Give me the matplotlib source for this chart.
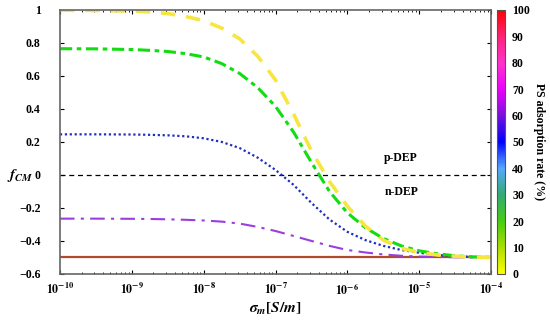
import matplotlib
matplotlib.use('Agg')
import matplotlib.pyplot as plt
import numpy as np
from matplotlib.colors import LinearSegmentedColormap, Normalize
from matplotlib.cm import ScalarMappable

plt.rcParams['font.family'] = 'Liberation Serif'
plt.rcParams['font.weight'] = 'bold'
plt.rcParams['mathtext.fontset'] = 'stix'

# ------------------------------------------------------------
# data (log10 of sigma_m, f_CM)
# ------------------------------------------------------------
log_sigma = [-10, -9.5, -9, -8.75, -8.5, -8.25, -8, -7.75, -7.5, -7.25, -7,
             -6.75, -6.5, -6.25, -6, -5.75, -5.5, -5.25, -5, -4.75, -4.5,
             -4.25, -4]

f_yellow = [0.998, 0.997, 0.993, 0.988, 0.978, 0.96, 0.935, 0.89, 0.825, 0.72,
            0.575, 0.37, 0.145, -0.04, -0.19, -0.31, -0.395, -0.445, -0.47,
            -0.485, -0.493, -0.498, -0.5]
f_green = [0.765, 0.764, 0.76, 0.755, 0.748, 0.735, 0.715, 0.675, 0.615, 0.53,
           0.415, 0.26, 0.075, -0.1, -0.23, -0.32, -0.385, -0.43, -0.46,
           -0.478, -0.49, -0.497, -0.5]
f_blue = [0.246, 0.246, 0.245, 0.243, 0.24, 0.234, 0.222, 0.2, 0.163, 0.105,
          0.03, -0.06, -0.17, -0.27, -0.345, -0.395, -0.43, -0.455, -0.472,
          -0.485, -0.492, -0.497, -0.5]
f_purple = [-0.265, -0.265, -0.266, -0.267, -0.269, -0.272, -0.276, -0.283,
            -0.295, -0.315, -0.34, -0.37, -0.40, -0.43, -0.455, -0.47, -0.482,
            -0.49, -0.495, -0.497, -0.499, -0.5, -0.5]
f_red = [-0.5] * len(log_sigma)

y_ticks = [1, 0.8, 0.6, 0.4, 0.2, 0, -0.2, -0.4, -0.6]
y_tick_labels = ['1', '0.8', '0.6', '0.4', '0.2', '0', '\u22120.2', '\u22120.4', '\u22120.6']
x_exponents = [-10, -9, -8, -7, -6, -5, -4]
cbar_ticks = [0, 10, 20, 30, 40, 50, 60, 70, 80, 90, 100]

# colour bar (PS adsorption rate)
cmap = LinearSegmentedColormap.from_list('ps', [
    (0.0, '#ffff00'), (0.1, '#aadd00'), (0.2, '#44cc11'), (0.3, '#33aa77'),
    (0.4, '#55aaff'), (0.5, '#0000ff'), (0.6, '#7711dd'), (0.7, '#ee00ff'),
    (0.8, '#ff33cc'), (0.9, '#ff2277'), (1.0, '#ff0000')])

fig = plt.figure(figsize=(5.5, 3.2), dpi=100)
ax = fig.add_axes([0.109, 0.144, 0.784, 0.825])
cax = fig.add_axes([0.904, 0.144, 0.0145, 0.825])

x = 10.0 ** np.array(log_sigma)

ax.axhline(0, color='black', linestyle=(0, (4, 3)), linewidth=0.9)
ax.plot(x, f_red, color='#b04a28', linewidth=1.6, solid_capstyle='butt')
ax.plot(x, f_purple, color='#9a3ee0', linewidth=1.5, linestyle=(0, (7, 3, 1.5, 3)))
ax.plot(x, f_blue, color='#1f2fc0', linewidth=1.6, linestyle=(0, (1, 1.2)))
ax.plot(x, f_green, color='#11dd11', linewidth=2.2, linestyle=(0, (4, 1.5, 1.5, 1.5)))
ax.plot(x, f_yellow, color='#f8e640', linewidth=2.6, linestyle=(0, (4, 3)))

ax.set_xscale('log')
ax.set_xlim(1e-10, 1e-4)
ax.set_ylim(-0.6, 1.0)
ax.set_yticks(y_ticks)
ax.set_yticklabels(y_tick_labels)
ax.set_xticks([10.0 ** e for e in x_exponents])
ax.set_xticklabels([r'$\mathbf{10^{%d}}$' % e for e in x_exponents])

ax.tick_params(which='both', direction='in', top=True, right=True, labelsize=8.5)
ax.tick_params(which='major', length=3, pad=6)
ax.tick_params(which='minor', length=1.5)
ax.tick_params(axis='y', pad=14)
for sp in ax.spines.values():
    sp.set_color('#666666')
    sp.set_linewidth(1.2)

ax.text(5.6e-6, 0.105, 'p-DEP', fontsize=8.5, fontweight='bold', ha='center', va='center')
ax.text(5.6e-6, -0.105, 'n-DEP', fontsize=8.5, fontweight='bold', ha='center', va='center')

fig.text(0.036, 0.453, r'$\boldsymbol{f_{CM}}$', fontsize=11, ha='center', va='center')
ax.set_xlabel(r'$\boldsymbol{\sigma_m[S/m]}$', fontsize=11, labelpad=2)

sm = ScalarMappable(norm=Normalize(0, 100), cmap=cmap)
cb = fig.colorbar(sm, cax=cax)
cb.set_ticks(cbar_ticks)
cb.ax.tick_params(labelsize=8.5, length=0, pad=5)
cb.outline.set_edgecolor('#555555')
cb.set_label('PS adsorption rate (%)', rotation=270, fontsize=8.5, fontweight='bold', labelpad=11)

fig.savefig('out.png', dpi=100)
